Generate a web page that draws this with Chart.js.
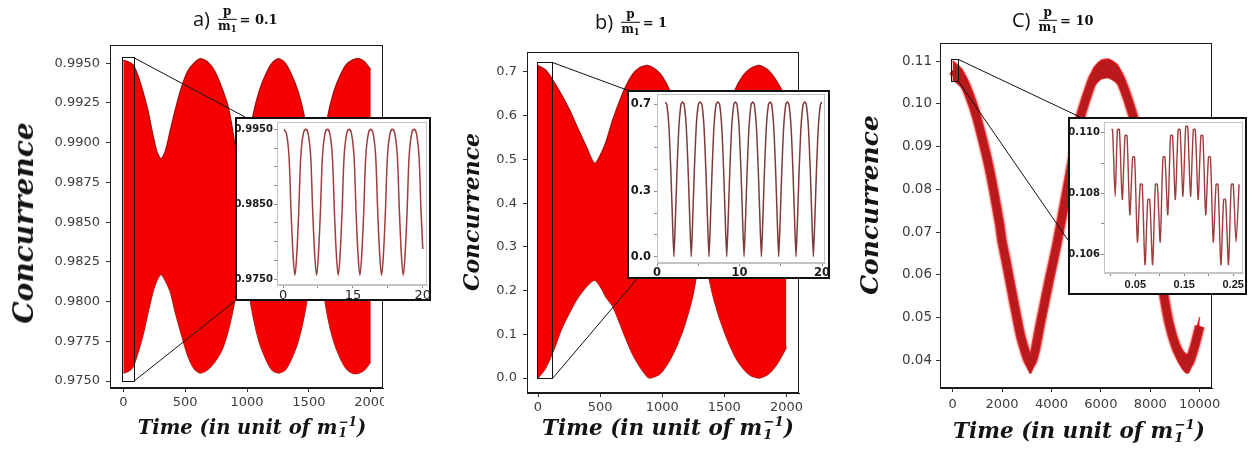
<!DOCTYPE html>
<html><head><meta charset="utf-8">
<script src="https://cdn.jsdelivr.net/npm/chart.js@4.4.1/dist/chart.umd.min.js"></script>
<style>
html,body{margin:0;padding:0;background:#fff;}
#stage{position:relative;width:1258px;height:454px;overflow:hidden;background:#fff;}
#stage > canvas{position:absolute;top:0;display:block;z-index:1;}
.inset{position:absolute;border:2px solid #111;background:#fff;z-index:2;}
.inset canvas{position:absolute;left:0;top:0;display:block;}
.ytitle,.xtitle{position:absolute;white-space:nowrap;font-family:'DejaVu Serif',serif;font-style:italic;font-weight:bold;color:#141414;line-height:1;z-index:3;}
.ytitle{transform:translate(-50%,-50%) rotate(-90deg);}
.xtitle{transform:translate(-50%,-50%);}
.ss{display:inline-flex;flex-direction:column;font-size:0.62em;line-height:0.95;vertical-align:0.68em;margin-left:1px;}
.ptitle{position:absolute;display:flex;align-items:center;transform:translateY(-50%);white-space:nowrap;color:#111;z-index:3;}
.lab{font:20px 'Open Sans',sans-serif;line-height:1;margin-right:8px;}
.frac{display:inline-flex;flex-direction:column;align-items:center;font:bold 12px 'DejaVu Serif',serif;line-height:1.1;margin-right:3px;}
.frac .num{border-bottom:1.3px solid #111;padding:0 2px 1px;align-self:stretch;text-align:center;}
.frac .den sub{font-size:0.7em;vertical-align:-0.25em;line-height:0;}
.eq{font:bold 13px 'DejaVu Serif',serif;}
</style></head>
<body>
<div id="stage">
  <canvas id="ca" width="384" height="454" style="left:0px"></canvas>
  <canvas id="cb" width="390" height="454" style="left:420px"></canvas>
  <canvas id="cc" width="418" height="454" style="left:840px"></canvas>

  <div class="inset" style="left:235px;top:117px;width:192px;height:180px"><canvas id="ia" width="192" height="180"></canvas></div>
  <div class="inset" style="left:627px;top:90px;width:199px;height:185px"><canvas id="ib" width="199" height="185"></canvas></div>
  <div class="inset" style="left:1068px;top:117px;width:175px;height:174px"><canvas id="ic" width="175" height="174"></canvas></div>

  <div class="ptitle" style="left:193px;top:19px"><span class="lab">a)</span><span class="frac"><span class="num">p</span><span class="den">m<sub>1</sub></span></span><span class="eq">= 0.1</span></div>
  <div class="ptitle" style="left:595px;top:22px"><span class="lab">b)</span><span class="frac"><span class="num">p</span><span class="den">m<sub>1</sub></span></span><span class="eq">= 1</span></div>
  <div class="ptitle" style="left:1012px;top:20px"><span class="lab">C)</span><span class="frac"><span class="num">p</span><span class="den">m<sub>1</sub></span></span><span class="eq">= 10</span></div>

  <div class="ytitle" style="left:24px;top:223px;font-size:28px">Concurrence</div>
  <div class="ytitle" style="left:471px;top:212px;font-size:22px">Concurrence</div>
  <div class="ytitle" style="left:869px;top:205px;font-size:25px">Concurrence</div>

  <div class="xtitle" style="left:252px;top:428px;font-size:19.5px">Time (in unit of m<span class="ss"><span>−1</span><span>1</span></span>)</div>
  <div class="xtitle" style="left:668px;top:428px;font-size:21.5px">Time (in unit of m<span class="ss"><span>−1</span><span>1</span></span>)</div>
  <div class="xtitle" style="left:1079px;top:431px;font-size:21.5px">Time (in unit of m<span class="ss"><span>−1</span><span>1</span></span>)</div>
</div>
<script>
// ---------------- DATA ----------------
// Panel a (p/m1 = 0.1): envelope of the fast oscillation
const timeA  = [0,40,80,120,160,200,240,270,305,340,380,420,470,520,570,621,680,740,800,850,900,930,960,1000,1050,1100,1150,1200,1255,1310,1360,1410,1460,1510,1555,1600,1650,1700,1750,1800,1850,1905,1950,2000];
const upperA = [0.9952,0.9951,0.9949,0.9942,0.9932,0.9920,0.9905,0.9895,0.9890,0.9895,0.9908,0.9921,0.9935,0.9945,0.9950,0.9953,0.9951,0.9945,0.9934,0.9922,0.9900,0.9880,0.9856,0.9893,0.9918,0.9933,0.9943,0.9950,0.9953,0.9950,0.9943,0.9933,0.9918,0.9893,0.9856,0.9890,0.9916,0.9932,0.9942,0.9949,0.9952,0.9953,0.9951,0.9946];
const lowerA = [0.9755,0.9756,0.9759,0.9768,0.9779,0.9793,0.9806,0.9813,0.9817,0.9813,0.9806,0.9793,0.9779,0.9766,0.9758,0.9755,0.9757,0.9762,0.9770,0.9782,0.9800,0.9818,0.9850,0.9814,0.9790,0.9774,0.9764,0.9757,0.9755,0.9757,0.9764,0.9774,0.9790,0.9814,0.9850,0.9817,0.9791,0.9775,0.9765,0.9758,0.9755,0.9755,0.9757,0.9762];
const xTicksA = [0,500,1000,1500,2000];
const xLabelsA = ['0','500','1000','1500','2000'];
const yTicksA = [0.9750,0.9775,0.9800,0.9825,0.9850,0.9875,0.9900,0.9925,0.9950];
const yLabelsA = ['0.9750','0.9775','0.9800','0.9825','0.9850','0.9875','0.9900','0.9925','0.9950'];
const zoomWinA = [-13, 81, 0.9750, 0.99539];

// Panel b (p/m1 = 1)
const timeB  = [0,60,121,190,255,320,390,456,510,551,600,658,711,765,819,873,897,950,1000,1060,1120,1180,1240,1280,1320,1360,1420,1500,1584,1650,1710,1770,1785,1850,1920,2000];
const upperB = [0.715,0.705,0.681,0.648,0.613,0.572,0.529,0.491,0.515,0.544,0.590,0.635,0.670,0.696,0.710,0.715,0.714,0.705,0.690,0.658,0.610,0.540,0.460,0.395,0.330,0.400,0.490,0.580,0.658,0.692,0.708,0.715,0.715,0.705,0.680,0.640];
const lowerB = [0.000,0.022,0.060,0.112,0.150,0.183,0.209,0.224,0.205,0.183,0.165,0.125,0.087,0.052,0.026,0.005,0.000,0.004,0.015,0.040,0.075,0.120,0.180,0.240,0.315,0.250,0.175,0.105,0.050,0.022,0.006,0.000,0.000,0.008,0.030,0.070];
const xTicksB = [0,500,1000,1500,2000];
const xLabelsB = ['0','500','1000','1500','2000'];
const yTicksB = [0,0.1,0.2,0.3,0.4,0.5,0.6,0.7];
const yLabelsB = ['0.0','0.1','0.2','0.3','0.4','0.5','0.6','0.7'];
const zoomWinB = [-8, 116, 0.0, 0.723];

// Panel c (p/m1 = 10): band centre and its edges
const timeC   = [0,400,851,1200,1528,1900,2000,2205,2500,2744,2950,3060,3150,3240,3350,3555,3900,4232,4703,5176,5500,5715,6000,6324,6700,7100,7475,7850,8200,8450,8750,9050,9300,9420,9500,9580,9700,9850,10000];
const centerC = [0.1079,0.1058,0.0993,0.0920,0.0838,0.0720,0.0680,0.0620,0.0530,0.0460,0.0418,0.0400,0.0392,0.0402,0.0425,0.0487,0.0585,0.0675,0.0822,0.0970,0.1030,0.1063,0.1080,0.1083,0.1068,0.1010,0.0935,0.0830,0.0700,0.0590,0.0490,0.0430,0.0402,0.0394,0.0392,0.0396,0.0415,0.0445,0.0480];
const upperC  = [0.1101,0.1080,0.1015,0.0942,0.0860,0.0742,0.0702,0.0642,0.0552,0.0482,0.0440,0.0422,0.0414,0.0424,0.0447,0.0509,0.0607,0.0697,0.0844,0.0992,0.1052,0.1085,0.1102,0.1105,0.1090,0.1032,0.0957,0.0852,0.0722,0.0612,0.0512,0.0452,0.0424,0.0416,0.0414,0.0418,0.0437,0.0467,0.0502];
const lowerC  = [0.1057,0.1036,0.0971,0.0898,0.0816,0.0698,0.0658,0.0598,0.0508,0.0438,0.0396,0.0378,0.0370,0.0380,0.0403,0.0465,0.0563,0.0653,0.0800,0.0948,0.1008,0.1041,0.1058,0.1061,0.1046,0.0988,0.0913,0.0808,0.0678,0.0568,0.0468,0.0408,0.0380,0.0372,0.0370,0.0374,0.0393,0.0423,0.0458];
const xTicksC = [0,2000,4000,6000,8000,10000];
const xLabelsC = ['0','2000','4000','6000','8000','10000'];
const yTicksC = [0.04,0.05,0.06,0.07,0.08,0.09,0.10,0.11];
const yLabelsC = ['0.04','0.05','0.06','0.07','0.08','0.09','0.10','0.11'];
const zoomWinC = [-53, 218, 0.1054, 0.11047];

// Inset a (first 20 time units of panel a)
const insetATime  = [0.15,0.5,0.85,1.15,1.45,1.7,1.95,2.25,2.55,2.9,3.25,3.6,3.95,4.25,4.55,4.8,5.05,5.35,5.65,6.0,6.35,6.7,7.05,7.35,7.65,7.9,8.15,8.45,8.75,9.1,9.45,9.8,10.15,10.45,10.75,11.0,11.25,11.55,11.85,12.2,12.55,12.9,13.25,13.55,13.85,14.1,14.35,14.65,14.95,15.3,15.65,16.0,16.35,16.65,16.95,17.2,17.45,17.75,18.05,18.4,18.75,19.1,19.45,19.75,20.0];
const insetAValue = [0.9950,0.9944,0.9915,0.9840,0.9780,0.9755,0.9780,0.9840,0.9915,0.9944,
                     0.9950,0.9944,0.9915,0.9840,0.9780,0.9755,0.9780,0.9840,0.9915,0.9944,
                     0.9950,0.9944,0.9915,0.9840,0.9780,0.9755,0.9780,0.9840,0.9915,0.9944,
                     0.9950,0.9944,0.9915,0.9840,0.9780,0.9755,0.9780,0.9840,0.9915,0.9944,
                     0.9950,0.9944,0.9915,0.9840,0.9780,0.9755,0.9780,0.9840,0.9915,0.9944,
                     0.9950,0.9944,0.9915,0.9840,0.9780,0.9755,0.9780,0.9840,0.9915,0.9944,
                     0.9950,0.9944,0.9915,0.9840,0.9790];
const insetAXTicks = [0,5,10,15,20];
const insetAXLabels = ['0','','15','','20'];
const insetAYTicks = [0.9750,0.9775,0.9800,0.9825,0.9850,0.9875,0.9900,0.9925,0.9950];
const insetAYLabels = ['0.9750','','','','0.9850','','','','0.9950'];

// Inset b
const insetBTime  = [1.0,
  1.19,1.44,1.69,1.89,2.05,2.21,2.41,2.66,2.91,3.1,
  3.29,3.54,3.79,3.99,4.15,4.31,4.51,4.76,5.01,5.22,
  5.44,5.69,5.94,6.14,6.3,6.46,6.66,6.91,7.16,7.38,
  7.59,7.84,8.09,8.29,8.45,8.61,8.81,9.06,9.31,9.5,
  9.69,9.94,10.19,10.39,10.55,10.71,10.91,11.16,11.41,11.6,
  11.79,12.04,12.29,12.49,12.65,12.81,13.01,13.26,13.51,13.7,
  13.89,14.14,14.39,14.59,14.75,14.91,15.11,15.36,15.61,15.8,
  15.99,16.24,16.49,16.69,16.85,17.01,17.21,17.46,17.71,17.9,
  18.09,18.34,18.59,18.79,18.95,19.11,19.31,19.56,19.81,20.0];
const insetBValue = [0.71,
  0.70,0.60,0.38,0.15,0.0,0.15,0.38,0.60,0.70,0.71,
  0.70,0.60,0.38,0.15,0.0,0.15,0.38,0.60,0.70,0.71,
  0.70,0.60,0.38,0.15,0.0,0.15,0.38,0.60,0.70,0.71,
  0.70,0.60,0.38,0.15,0.0,0.15,0.38,0.60,0.70,0.71,
  0.70,0.60,0.38,0.15,0.0,0.15,0.38,0.60,0.70,0.71,
  0.70,0.60,0.38,0.15,0.0,0.15,0.38,0.60,0.70,0.71,
  0.70,0.60,0.38,0.15,0.0,0.15,0.38,0.60,0.70,0.71,
  0.70,0.60,0.38,0.15,0.0,0.15,0.38,0.60,0.70,0.71,
  0.70,0.60,0.38,0.15,0.0,0.15,0.38,0.60,0.70,0.71];
const insetBXTicks = [0,5,10,15,20];
const insetBXLabels = ['0','','10','','20'];
const insetBYTicks = [0,0.1,0.2,0.3,0.4,0.5,0.6,0.7];
const insetBYLabels = ['0.0','','','0.3','','','','0.7'];

// Inset c
const insetCTime  = [0.001,0.0035,0.0088, 0.0135,0.0175,0.0233, 0.029,0.033,0.0388, 0.0445,0.0485,0.0543, 0.060,0.064,0.0698, 0.0755,0.0795,0.0853, 0.091,0.095,0.1008, 0.1065,0.1105,0.1163, 0.122,0.126,0.1318, 0.1375,0.1415,0.1473, 0.153,0.157,0.1628, 0.1685,0.1725,0.1783, 0.184,0.188,0.1938, 0.1995,0.2035,0.2093, 0.215,0.219,0.2248, 0.2305,0.2345,0.2403, 0.246,0.250,0.2558, 0.262];
const insetCValue = [0.1101,0.1101,0.1079, 0.1101,0.1101,0.1078, 0.1099,0.1099,0.1073, 0.1092,0.1092,0.1064, 0.1083,0.1083,0.10565, 0.1078,0.1078,0.10565, 0.1083,0.1083,0.1064, 0.1092,0.1092,0.1073, 0.1099,0.1099,0.1078, 0.1101,0.1101,0.1079, 0.1102,0.1102,0.1079, 0.1101,0.1101,0.1078, 0.1099,0.1099,0.1073, 0.1092,0.1092,0.1064, 0.1083,0.1083,0.10565, 0.1078,0.1078,0.10565, 0.1083,0.1083,0.1064, 0.1083];
const insetCXTicks = [0,0.05,0.10,0.15,0.20,0.25];
const insetCXLabels = ['','0.05','','0.15','','0.25'];
const insetCYTicks = [0.106,0.107,0.108,0.109,0.110];
const insetCYLabels = ['0.106','','0.108','','0.110'];

// ---------------- RENDERING ----------------
const pts = (xs, ys) => xs.map((x, i) => ({x, y: ys[i]}));

const framePlugin = {
  id: 'frame',
  afterDatasetsDraw(chart, args, o) {
    if (!o || !o.color) return;
    const a = chart.chartArea, ctx = chart.ctx;
    ctx.save();
    ctx.strokeStyle = o.color; ctx.lineWidth = o.width || 1;
    ctx.strokeRect(Math.round(a.left) + 0.5, Math.round(a.top) + 0.5, Math.round(a.right - a.left) - 1, Math.round(a.bottom - a.top) - 1);
    ctx.restore();
  }
};
const zoomBoxPlugin = {
  id: 'zoomBox',
  afterDatasetsDraw(chart, args, o) {
    if (!o || !o.win) return;
    const sx = chart.scales.x, sy = chart.scales.y, ctx = chart.ctx;
    const x0 = sx.getPixelForValue(o.win[0]), x1 = sx.getPixelForValue(o.win[1]);
    const yb = sy.getPixelForValue(o.win[2]), yt = sy.getPixelForValue(o.win[3]);
    ctx.save();
    ctx.strokeStyle = '#111'; ctx.lineWidth = 1;
    ctx.strokeRect(Math.round(x0) + 0.5, Math.round(yt) + 0.5, Math.round(x1 - x0), Math.round(yb - yt));
    ctx.beginPath();
    ctx.moveTo(Math.round(x1) + 0.5, Math.round(yt) + 0.5);
    ctx.lineTo(o.to[0][0] - o.origin[0], o.to[0][1] - o.origin[1]);
    ctx.moveTo(Math.round(x1) + 0.5, Math.round(yb) + 0.5);
    ctx.lineTo(o.to[1][0] - o.origin[0], o.to[1][1] - o.origin[1]);
    ctx.stroke();
    ctx.restore();
  }
};
Chart.register(framePlugin, zoomBoxPlugin);
Chart.defaults.font.family = "'DejaVu Sans', sans-serif";

function axis(o) {
  return {
    type: 'linear', bounds: 'data', min: o.range[0], max: o.range[1],
    afterBuildTicks: s => { s.ticks = o.ticks.map(v => ({value: v})); },
    afterFit: s => {
      if (o.w !== undefined) s.width = o.w;
      if (o.h !== undefined) s.height = o.h;
      s.paddingLeft = 0; s.paddingRight = 0; s.paddingTop = 0; s.paddingBottom = 0;
    },
    ticks: { autoSkip: false, maxRotation: 0, padding: o.pad, color: o.color,
             font: { size: o.fs, weight: o.bold ? 'bold' : 'normal', family: o.family || "'DejaVu Sans', sans-serif" },
             callback: (v, i) => o.labels[i] },
    grid: { drawOnChartArea: false, drawTicks: true, tickLength: o.tl, color: o.tc, lineWidth: 1 },
    border: { display: true, color: o.bc, width: 1 }
  };
}

function makeChart(id, o) {
  return new Chart(document.getElementById(id), {
    type: 'line',
    data: { datasets: o.datasets },
    options: {
      responsive: false, animation: false, events: [], devicePixelRatio: 1,
      layout: { padding: o.pad },
      elements: { point: { radius: 0 } },
      plugins: { legend: { display: false }, tooltip: { enabled: false },
                 frame: o.frame, zoomBox: o.zoom || {} },
      scales: { x: axis(o.x), y: axis(o.y) }
    }
  });
}

const redFill = '#f40000', redEdge = 'rgba(150,0,0,0.85)';
const mainTickColor = '#3c3c3c';

// Panel a
makeChart('ca', {
  pad: { left: 0, right: 1, top: 45, bottom: 0 },
  frame: { color: '#1a1a1a', width: 1 },
  zoom: { win: zoomWinA, origin: [0, 0], to: [[245, 117], [235, 301]] },
  datasets: [
    { data: pts(timeA, upperA), fill: '+1', backgroundColor: redFill, borderColor: redEdge, borderWidth: 1.2, tension: 0.25 },
    { data: pts(timeA, lowerA), fill: false, borderColor: redEdge, borderWidth: 1.2, tension: 0.25 }
  ],
  x: { range: [-107.5, 2099], ticks: xTicksA, labels: xLabelsA, h: 66, pad: 3, fs: 13, color: mainTickColor, tl: 4, tc: '#333', bc: '#1a1a1a' },
  y: { range: [0.97456, 0.99615], ticks: yTicksA, labels: yLabelsA, w: 110, pad: 6, fs: 13, color: mainTickColor, tl: 4, tc: '#333', bc: '#1a1a1a' }
});

// Panel b
makeChart('cb', {
  pad: { left: 0, right: 11, top: 52, bottom: 0 },
  frame: { color: '#1a1a1a', width: 1 },
  zoom: { win: zoomWinB, origin: [420, 0], to: [[627, 90], [637, 279]] },
  datasets: [
    { data: pts(timeB, upperB), fill: '+1', backgroundColor: redFill, borderColor: redEdge, borderWidth: 1.2, tension: 0.25 },
    { data: pts(timeB, lowerB), fill: false, borderColor: redEdge, borderWidth: 1.2, tension: 0.25 }
  ],
  x: { range: [-88.6, 2101], ticks: xTicksB, labels: xLabelsB, h: 61, pad: 3, fs: 13, color: mainTickColor, tl: 4, tc: '#333', bc: '#1a1a1a' },
  y: { range: [-0.0342, 0.7457], ticks: yTicksB, labels: yLabelsB, w: 107, pad: 6, fs: 13, color: mainTickColor, tl: 4, tc: '#333', bc: '#1a1a1a' }
});

// Panel c
const bandCore = '#bb1a1d';
makeChart('cc', {
  pad: { left: 0, right: 46, top: 43, bottom: 0 },
  frame: { color: '#1a1a1a', width: 1 },
  zoom: { win: zoomWinC, origin: [840, 0], to: [[1080, 117], [1068, 240]] },
  datasets: [
    { data: pts(timeC, centerC), fill: false, borderColor: bandCore, borderWidth: 8, tension: 0.2 },
    { data: pts(timeC, upperC), fill: '+1', backgroundColor: bandCore, borderColor: 'rgba(240,20,20,0.8)', borderWidth: 1.5, tension: 0.2 },
    { data: pts(timeC, lowerC), fill: false, borderColor: 'rgba(240,20,20,0.8)', borderWidth: 1.5, tension: 0.2 },
    { data: pts(timeC, centerC), fill: false, borderColor: 'rgba(240,20,20,0.75)', borderWidth: 10, tension: 0.2 },
    { data: pts(timeC, centerC), fill: false, borderColor: 'rgba(255,60,60,0.18)', borderWidth: 13, tension: 0.2 }
  ],
  x: { range: [-509, 10497], ticks: xTicksC, labels: xLabelsC, h: 66, pad: 5, fs: 13, color: mainTickColor, tl: 4, tc: '#333', bc: '#1a1a1a' },
  y: { range: [0.03355, 0.11427], ticks: yTicksC, labels: yLabelsC, w: 100, pad: 4, fs: 13.5, color: mainTickColor, tl: 4, tc: '#333', bc: '#1a1a1a' }
});

// Insets
const insetLine = '#9f3d3d';
const inFrame = { color: '#c4c4c4', width: 1 };
makeChart('ia', {
  pad: { left: 0, right: 2, top: 3, bottom: 0 },
  frame: inFrame,
  datasets: [ { data: pts(insetATime, insetAValue), fill: false, borderColor: insetLine, borderWidth: 1.5, tension: 0.35 } ],
  x: { range: [-0.86, 20.6], ticks: insetAXTicks, labels: insetAXLabels, h: 14, pad: 0, fs: 13, color: '#222', tl: 3, tc: '#888', bc: '#c4c4c4' },
  y: { range: [0.9742, 0.99598], ticks: insetAYTicks, labels: insetAYLabels, w: 40, pad: 1, fs: 10, bold: true, color: '#1a1a1a', tl: 3, tc: '#888', bc: '#c4c4c4' }
});
makeChart('ib', {
  pad: { left: 0, right: 3, top: 2, bottom: 0 },
  frame: inFrame,
  datasets: [ { data: pts(insetBTime, insetBValue), fill: false, borderColor: '#7e3b3b', borderWidth: 1.5, tension: 0.2 } ],
  x: { range: [0, 20.36], ticks: insetBXTicks, labels: insetBXLabels, h: 14, pad: 0, fs: 11.5, bold: true, color: '#1a1a1a', tl: 3, tc: '#888', bc: '#c4c4c4' },
  y: { range: [-0.0289, 0.7473], ticks: insetBYTicks, labels: insetBYLabels, w: 28, pad: 3, fs: 11.5, bold: true, color: '#1a1a1a', tl: 3, tc: '#888', bc: '#c4c4c4' }
});
makeChart('ic', {
  pad: { left: 0, right: 2, top: 3, bottom: 0 },
  frame: inFrame,
  datasets: [ { data: pts(insetCTime, insetCValue), fill: false, borderColor: insetLine, borderWidth: 1.4, tension: 0.25 } ],
  x: { range: [-0.014, 0.27], ticks: insetCXTicks, labels: insetCXLabels, h: 20, pad: 2, fs: 11, bold: true, family: "'Liberation Sans', sans-serif", color: '#1a1a1a', tl: 3, tc: '#888', bc: '#c4c4c4' },
  y: { range: [0.10538, 0.11035], ticks: insetCYTicks, labels: insetCYLabels, w: 34, pad: 1, fs: 10, bold: true, color: '#1a1a1a', tl: 3, tc: '#888', bc: '#c4c4c4' }
});
</script>
</body></html>
